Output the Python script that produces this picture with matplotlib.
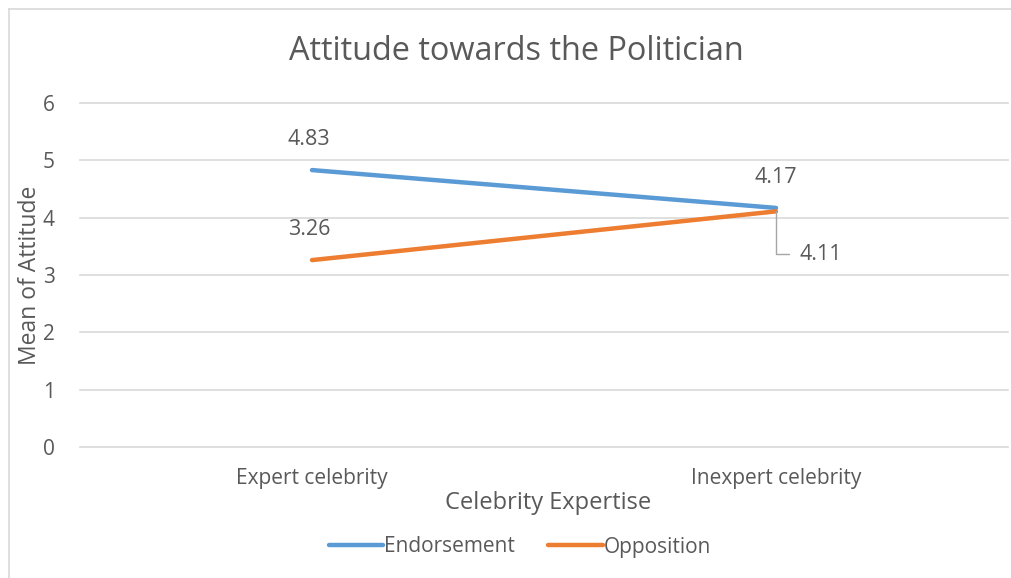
import matplotlib.pyplot as plt
from matplotlib.lines import Line2D

categories = ["Expert celebrity", "Inexpert celebrity"]
endorsement = [4.83, 4.17]
opposition = [3.26, 4.11]

plt.rcParams['font.family'] = ['Open Sans', 'DejaVu Sans']
TXT = "#595959"
BLUE = "#5B9BD5"
ORANGE = "#ED7D31"
GRID = "#D9D9D9"

W, H = 1012, 578
fig = plt.figure(figsize=(W / 100, H / 100), dpi=100)
ax = fig.add_axes([80 / W, 131 / H, 928 / W, 344 / H])

x = [0, 1]
ax.plot(x, endorsement, color=BLUE, lw=3.2, solid_capstyle='round', zorder=3)
ax.plot(x, opposition, color=ORANGE, lw=3.2, solid_capstyle='round', zorder=3)

ax.set_xlim(-0.5, 1.5)
ax.set_ylim(0, 6)
ax.set_yticks(range(0, 7))
ax.set_xticks(x)
ax.set_xticklabels(categories)
for yv in range(0, 7):
    ax.axhline(yv, color=GRID, lw=1.2, zorder=1, clip_on=False)
for s in ax.spines.values():
    s.set_visible(False)
ax.tick_params(length=0, labelsize=15, colors=TXT)
ax.tick_params(axis='y', pad=18)
ax.tick_params(axis='x', pad=15)

fig.text(548 / W, 1 - 503 / H, "Celebrity Expertise", ha='center', va='center',
         fontsize=17, color=TXT)
fig.text(30 / W, 1 - 275 / H, "Mean of Attitude", ha='center', va='center',
         rotation=90, fontsize=16.5, color=TXT)
fig.text(516 / W, 1 - 52 / H, "Attitude towards the Politician",
         ha='center', va='center', fontsize=23.4, color=TXT)

# data labels
lbl = dict(fontsize=15.5, color=TXT, ha='center', va='center')
ax.annotate(f"{endorsement[0]:.2f}", (0, endorsement[0]), xytext=(-2, 22),
            textcoords='offset points', **lbl)
ax.annotate(f"{opposition[0]:.2f}", (0, opposition[0]), xytext=(-2, 22),
            textcoords='offset points', **lbl)
ax.annotate(f"{endorsement[1]:.2f}", (1, endorsement[1]), xytext=(0, 22),
            textcoords='offset points', **lbl)
ax.annotate(f"{opposition[1]:.2f}", (1, opposition[1]), xytext=(17, -31),
            textcoords='offset points', fontsize=15.5, color=TXT, ha='left', va='center',
            arrowprops=dict(arrowstyle='-', color="#A6A6A6", lw=1,
                            connectionstyle="angle,angleA=0,angleB=90,rad=0",
                            shrinkA=6, shrinkB=0, relpos=(0, 0.5)))

handles = [Line2D([], [], color=BLUE, lw=3.2, solid_capstyle='round'),
           Line2D([], [], color=ORANGE, lw=3.2, solid_capstyle='round')]
leg = fig.legend(handles, ["Endorsement", "Opposition"], loc='center',
                 bbox_to_anchor=(520 / W, 1 - 547 / H), ncol=2, frameon=False,
                 fontsize=15, handlelength=2.6, handletextpad=0.05, columnspacing=1.6)
for t in leg.get_texts():
    t.set_color(TXT)

# chart frame (left and top edges)
fig.add_artist(Line2D([9 / W, 9 / W], [0, 1 - 9 / H], color=GRID, lw=1.2,
                      transform=fig.transFigure))
fig.add_artist(Line2D([9 / W, 1], [1 - 9 / H, 1 - 9 / H], color=GRID, lw=1.2,
                      transform=fig.transFigure))

fig.savefig("out.png", dpi=100, facecolor='white')
